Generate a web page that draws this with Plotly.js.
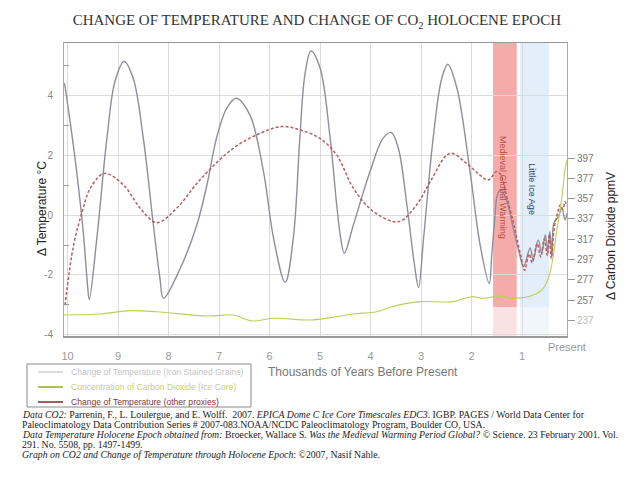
<!DOCTYPE html>
<html>
<head>
<meta charset="utf-8">
<script src="https://cdn.plot.ly/plotly-3.0.1.min.js"></script>
<style>html,body{margin:0;padding:0;background:#fff;}#chart{width:640px;height:480px;}</style>
</head>
<body>
<div id="chart"></div>
<script>
// Thousands of years before present
var ironX = [10.06, 9.95, 9.82, 9.69, 9.61, 9.57, 9.42, 9.22, 9.06, 8.88, 8.70, 8.50, 8.30, 8.17, 8.10, 7.77, 7.44, 7.24, 7.05, 6.85, 6.66, 6.39, 6.12, 5.92, 5.69, 5.53, 5.40, 5.30, 5.18, 5.00, 4.80, 4.67, 4.59, 4.52, 4.34, 4.01, 3.75, 3.59, 3.45, 3.28, 3.13, 3.05, 2.95, 2.76, 2.59, 2.47, 2.29, 2.03, 1.83, 1.65, 1.60, 1.54, 1.49, 1.42, 1.30, 1.18, 1.05, 0.97, 0.84, 0.78, 0.68, 0.61, 0.54, 0.49, 0.45, 0.41, 0.37, 0.28, 0.21, 0.15, 0.11];
var ironT = [4.42, 3.15, 1.47, -0.54, -2.22, -2.83, -0.78, 2.58, 4.49, 5.15, 4.59, 2.58, -0.33, -2.12, -2.79, -1.79, -0.33, 1.01, 2.58, 3.58, 3.92, 3.36, 1.46, -0.78, -2.25, -0.78, 2.58, 4.70, 5.50, 4.93, 2.58, 0.34, -0.78, -1.28, -0.33, 1.46, 2.58, 2.77, 2.24, 0.34, -1.67, -2.43, -0.78, 2.58, 4.59, 5.06, 4.26, 1.46, -1.00, -2.29, -1.34, -0.11, 0.67, 0.85, 0.45, -0.40, -1.30, -1.72, -1.10, -1.50, -0.83, -1.27, -0.66, -1.22, -0.55, -1.39, -0.27, -0.05, 0.23, -0.16, 0.07];

var proxyX = [10.05, 9.88, 9.70, 9.55, 9.27, 8.89, 8.56, 8.23, 7.84, 7.38, 6.72, 6.19, 5.76, 5.40, 5.01, 4.67, 4.34, 3.94, 3.45, 3.09, 2.82, 2.43, 2.10, 1.84, 1.67, 1.50, 1.42, 1.30, 1.15, 1.02, 0.95, 0.86, 0.80, 0.70, 0.63, 0.56, 0.50, 0.46, 0.42, 0.36, 0.30, 0.24, 0.19, 0.15, 0.11];
var proxyT = [-3.02, -1.00, 0.17, 0.90, 1.40, 1.01, 0.23, -0.25, 0.23, 1.18, 2.24, 2.74, 2.97, 2.86, 2.58, 2.02, 0.90, 0.12, -0.22, 0.34, 1.12, 2.07, 1.74, 1.35, 1.18, 1.46, 1.35, 0.60, -0.40, -1.40, -1.85, -1.30, -1.60, -0.95, -1.40, -0.80, -1.35, -0.65, -1.45, -0.40, 0.05, 0.35, 0.20, 0.45, 0.30];

var co2X = [10.07, 9.36, 8.76, 8.23, 7.24, 6.72, 6.35, 5.93, 5.20, 4.80, 4.35, 3.88, 3.58, 3.02, 2.37, 2.00, 1.77, 1.47, 1.17, 0.78, 0.58, 0.45, 0.31, 0.21, 0.15, 0.11];
var co2V = [242.2, 243.2, 246.5, 245.5, 241.2, 242.2, 236.3, 239.0, 237.3, 239.6, 243.2, 245.5, 250.4, 255.4, 255.4, 260.3, 258.7, 261.0, 258.7, 262.0, 268.6, 283.4, 326.1, 359.0, 385.4, 395.0];

var xTicks = [10, 9, 8, 7, 6, 5, 4, 3, 2, 1];
var tempTicks = [-4, -2, 0, 2, 4];
var tempMinorTicks = [-3, -1, 1, 3, 5];
var co2Ticks = [237, 257, 277, 297, 317, 337, 357, 377, 397];

var medievalPeriod = [1.574, 1.105];
var littleIceAge = [1.04, 0.465];

var seriesNames = [
  'Change of Temperature (Iron Stained Grains)',
  'Concentration of Carbon Dioxide (Ice Core)',
  'Change of Temperature (other proxies)'
];

var footLines = [
  '<i>Data CO2:</i> Parrenin, F., L. Loulergue, and E. Wolff.  2007. <i>EPICA Dome C Ice Core Timescales EDC3</i>. IGBP. PAGES / World Data Center for',
  'Paleoclimatology Data Contribution Series # 2007-083.NOAA/NCDC Paleoclimatology Program, Boulder CO, USA.',
  '<i>Data Temperature Holocene Epoch obtained from:</i> Broecker, Wallace S. <i>Was the Medieval Warming Period Global?</i> © Science. 23 February 2001. Vol.',
  '291. No. 5508, pp. 1497-1499.',
  '<i>Graph on CO2 and Change of Temperature through Holocene Epoch</i>: ©2007, Nasif Nahle.'
];

var sans = 'Liberation Sans, Arial, sans-serif';
var serif = 'Liberation Serif, Times New Roman, serif';

var lineColors = ['#8e8e9e', '#bccf55', '#b85c5c'];
var legendLineColors = ['#b8b8c0', '#9aae3a', '#8a3434'];
var legendTextColors = ['#c4c4c4', '#c6cf6a', '#8a3434'];

var traces = [
  {x: ironX, y: ironT, type: 'scatter', mode: 'lines', yaxis: 'y', name: seriesNames[0],
   line: {color: lineColors[0], width: 1.4, shape: 'spline', smoothing: 1}},
  {x: co2X, y: co2V, type: 'scatter', mode: 'lines', yaxis: 'y2', name: seriesNames[1],
   line: {color: lineColors[1], width: 1.1, shape: 'spline', smoothing: 1}},
  {x: proxyX, y: proxyT, type: 'scatter', mode: 'lines', yaxis: 'y', name: seriesNames[2],
   line: {color: lineColors[2], width: 1.5, dash: '3px,2px', shape: 'spline', smoothing: 1}}
];

function py(pix) { return (336 - pix) / 293; }
function px(pix) { return (pix - 64) / 503; }

var annotations = [
  {text: 'Δ Temperature °C', xref: 'paper', yref: 'paper', x: px(33), y: py(209), textangle: -90,
   showarrow: false, font: {family: sans, size: 12, color: '#222'}},
  {text: 'Δ Carbon Dioxide ppmV', xref: 'paper', yref: 'paper', x: px(620), y: py(236), textangle: -90,
   showarrow: false, font: {family: sans, size: 12, color: '#222'}},
  {text: 'Thousands of Years Before Present', xref: 'paper', yref: 'paper', x: px(363), y: py(381),
   showarrow: false, font: {family: sans, size: 12, color: '#777'}},
  {text: 'Present', xref: 'x', yref: 'paper', x: 0.11, y: py(355),
   showarrow: false, font: {family: sans, size: 11, color: '#999'}},
  {text: 'Medieval Global Warming', xref: 'x', yref: 'paper', x: 1.376, y: py(187), textangle: 90,
   showarrow: false, font: {family: sans, size: 9, color: '#b5534a'}},
  {text: 'Little Ice Age', xref: 'x', yref: 'paper', x: 0.81, y: py(189), textangle: 90,
   showarrow: false, font: {family: sans, size: 9, color: '#2c3e70'}}
];

var footY = [414, 424, 434, 444, 454];
footLines.forEach(function (t, i) {
  annotations.push({text: t, xref: 'paper', yref: 'paper', x: px(20), y: py(footY[i]),
    xanchor: 'left', yanchor: 'middle', showarrow: false, align: 'left',
    font: {family: serif, size: 9.8, color: '#222'}});
});

var shapes = [
  {type: 'rect', xref: 'x', yref: 'paper', x0: medievalPeriod[0], x1: medievalPeriod[1], y0: py(307), y1: 1,
   fillcolor: '#f6aaaa', line: {width: 0}, layer: 'below'},
  {type: 'rect', xref: 'x', yref: 'paper', x0: medievalPeriod[0], x1: medievalPeriod[1], y0: 0, y1: py(307),
   fillcolor: '#fbe2e2', line: {width: 0}, layer: 'below'},
  {type: 'rect', xref: 'x', yref: 'paper', x0: littleIceAge[0], x1: littleIceAge[1], y0: py(307), y1: 1,
   fillcolor: '#e2eefa', line: {width: 0}, layer: 'below'},
  {type: 'rect', xref: 'x', yref: 'paper', x0: littleIceAge[0], x1: littleIceAge[1], y0: 0, y1: py(307),
   fillcolor: '#f0f6fc', line: {width: 0}, layer: 'below'},
  // legend box
  {type: 'rect', xref: 'paper', yref: 'paper', x0: px(27), x1: px(251), y0: py(407), y1: py(364),
   fillcolor: '#ffffff', line: {color: '#8a8a8a', width: 1}, layer: 'above'}
];

var legendRowY = [372, 387, 402];
seriesNames.forEach(function (name, i) {
  shapes.push({type: 'line', xref: 'paper', yref: 'paper', x0: px(38), x1: px(63),
    y0: py(legendRowY[i]), y1: py(legendRowY[i]), line: {color: legendLineColors[i], width: i === 0 ? 1 : 1.6},
    layer: 'above'});
  annotations.push({text: name, xref: 'paper', yref: 'paper', x: px(69), y: py(legendRowY[i]),
    xanchor: 'left', yanchor: 'middle', showarrow: false,
    font: {family: sans, size: 8.6, color: legendTextColors[i]}});
});

var co2TickText = co2Ticks.map(function (v) {
  return v === 237 ? '<span style="color:#bbbbbb">' + v + '</span>' : String(v);
});

var layout = {
  width: 640, height: 480,
  margin: {l: 64, r: 73, t: 43, b: 144, pad: 0},
  paper_bgcolor: '#ffffff', plot_bgcolor: '#ffffff',
  title: {text: 'CHANGE OF TEMPERATURE AND CHANGE OF CO<sub>2</sub> HOLOCENE EPOCH',
          x: 0.495, y: 0.958, xref: 'container', yref: 'container', xanchor: 'center', yanchor: 'middle',
          font: {family: serif, size: 15, color: '#333'}},
  showlegend: false,
  xaxis: {range: [10.07, 0.11], tickmode: 'array', tickvals: xTicks, ticktext: xTicks.map(String),
          showgrid: true, gridcolor: '#dcdcdc', gridwidth: 1, zeroline: false,
          showline: true, mirror: true, linecolor: '#999', linewidth: 1.5, ticks: '',
          ticklabelstandoff: 9, tickfont: {family: sans, size: 11, color: '#999'}},
  yaxis: {range: [-4.05, 5.77], tickmode: 'array', tickvals: tempTicks, ticktext: tempTicks.map(String),
          showgrid: true, gridcolor: '#dcdcdc', zeroline: false,
          showline: true, mirror: true, linecolor: '#aaa', linewidth: 1, ticks: '',
          ticklabelstandoff: 8, tickfont: {family: sans, size: 10, color: '#888'},
          minor: {tickmode: 'array', tickvals: tempMinorTicks, ticks: 'inside', ticklen: 5, tickcolor: '#999', showgrid: false}},
  yaxis2: {overlaying: 'y', side: 'right', range: [221.5, 510.7], tickmode: 'array', tickvals: co2Ticks,
           ticktext: co2TickText, showgrid: false, zeroline: false, showline: false,
           ticks: 'outside', ticklen: 7, tickcolor: '#999', tickfont: {family: sans, size: 10, color: '#777'}},
  shapes: shapes,
  annotations: annotations
};

Plotly.newPlot('chart', traces, layout, {displayModeBar: false, staticPlot: true});
</script>
</body>
</html>
